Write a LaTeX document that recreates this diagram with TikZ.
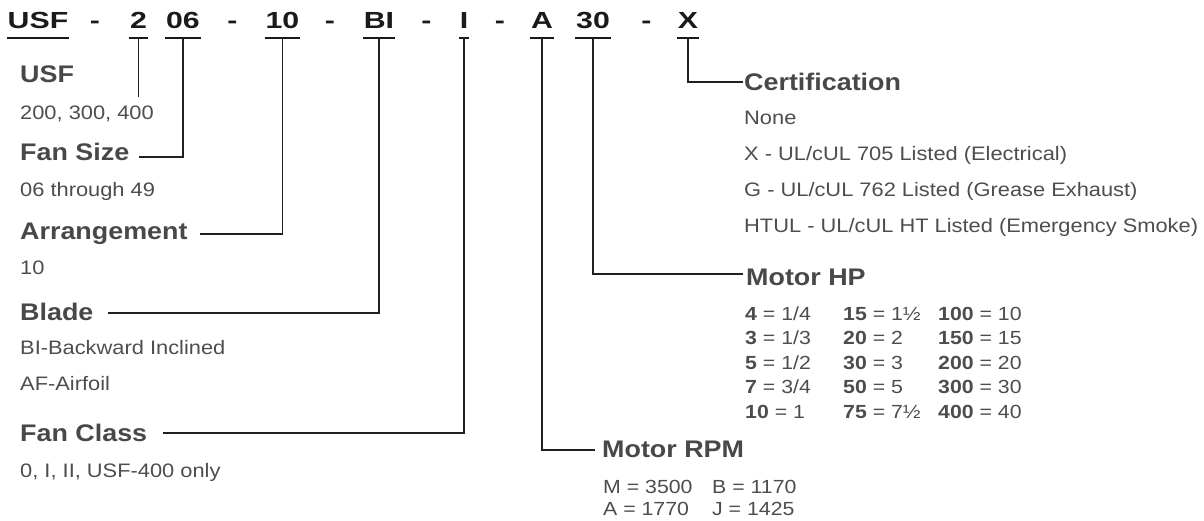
\documentclass[tikz,border=0pt]{standalone}
\usepackage{fontspec}
\setmainfont{Liberation Sans}[FakeStretch=1.12]
\newfontfamily\codef{Liberation Sans}[FakeStretch=1.3]
\definecolor{codecol}{HTML}{1A1A1A}
\definecolor{headcol}{HTML}{48484A}
\definecolor{bodycol}{HTML}{4D4D4F}
\definecolor{linecol}{HTML}{231F20}
\tikzset{
  code/.style={font=\codef\bfseries\fontsize{23.3}{24}\selectfont, text=codecol, anchor=base, inner sep=0pt},
  head/.style={font=\bfseries\fontsize{24}{26}\selectfont, text=headcol, anchor=base west, inner sep=0pt},
  body/.style={font=\fontsize{19.5}{21}\selectfont, text=bodycol, anchor=base west, inner sep=0pt},
  tab/.style={font=\fontsize{19}{20}\selectfont, text=bodycol, anchor=base west, inner sep=0pt},
  conn/.style={draw=linecol, line width=1.8pt},
  uline/.style={draw=codecol, line width=2pt},
}
\begin{document}
\begin{tikzpicture}[x=1pt,y=-1pt]
\useasboundingbox (0,0) rectangle (1204,521);
% code row
\node[code] (cUSF) at (38,29) {USF};
\node[code] (d1) at (95,29) {-};
\node[code] (c2) at (138.5,29) {2};
\node[code] (c06) at (183,29) {06};
\node[code] (d2) at (232.5,29) {-};
\node[code] (c10) at (282.5,29) {10};
\node[code] (d3) at (330,29) {-};
\node[code] (cBI) at (379,29) {BI};
\node[code] (d4) at (426.5,29) {-};
\node[code] (cI) at (464,29) {I};
\node[code] (d5) at (500,29) {-};
\node[code] (cA) at (542,29) {A};
\node[code] (c30) at (593,29) {30};
\node[code] (d6) at (646.5,29) {-};
\node[code] (cX) at (688,29) {X};
\foreach \n in {cUSF,c2,c06,c10,cBI,cI,cA,c30,cX}{
  \draw[uline] ([xshift=-0.5pt,yshift=-9pt]\n.base west) -- ([xshift=0.5pt,yshift=-9pt]\n.base east);
  \coordinate (u\n) at ([yshift=-9pt]\n.base);
}
% left column
\node[head] (hUSF) at (20,83) {USF};
\node[body] (bUSF) at (20,120) {200, 300, 400};
\node[head] (hFan) at (20,161) {Fan Size};
\node[body] (bFan) at (20,197) {06 through 49};
\node[head] (hArr) at (20,240) {Arrangement};
\node[body] (bArr) at (20,275) {10};
\node[head] (hBlade) at (20,320) {Blade};
\node[body] (bBlade1) at (20,354) {BI-Backward Inclined};
\node[body] (bBlade2) at (20,390) {AF-Airfoil};
\node[head] (hClass) at (20,441) {Fan Class};
\node[body] (bClass) at (20,477) {0, I, II, USF-400 only};
% right: certification
\node[head] (hCert) at (744,91) {Certification};
\node[body] (bCert1) at (744,125) {None};
\node[body] (bCert2) at (744,161) {X - UL/cUL 705 Listed (Electrical)};
\node[body] (bCert3) at (744,197) {G - UL/cUL 762 Listed (Grease Exhaust)};
\node[body] (bCert4) at (744,233) {HTUL - UL/cUL HT Listed (Emergency Smoke)};
% motor HP
\node[head] (hHP) at (746,285) {Motor HP};
\node[tab] (t11) at (745,320) {\textbf{4} = 1/4};
\node[tab] (t21) at (745,344.5) {\textbf{3} = 1/3};
\node[tab] (t31) at (745,369) {\textbf{5} = 1/2};
\node[tab] (t41) at (745,393.5) {\textbf{7} = 3/4};
\node[tab] (t51) at (745,418) {\textbf{10} = 1};
\node[tab] (t12) at (843,320) {\textbf{15} = 1½};
\node[tab] (t22) at (843,344.5) {\textbf{20} = 2};
\node[tab] (t32) at (843,369) {\textbf{30} = 3};
\node[tab] (t42) at (843,393.5) {\textbf{50} = 5};
\node[tab] (t52) at (843,418) {\textbf{75} = 7½};
\node[tab] (t13) at (938,320) {\textbf{100} = 10};
\node[tab] (t23) at (938,344.5) {\textbf{150} = 15};
\node[tab] (t33) at (938,369) {\textbf{200} = 20};
\node[tab] (t43) at (938,393.5) {\textbf{300} = 30};
\node[tab] (t53) at (938,418) {\textbf{400} = 40};
% motor RPM
\node[head] (hRPM) at (602,457) {Motor RPM};
\node[tab] (r11) at (603,493) {M = 3500};
\node[tab] (r12) at (712,493) {B = 1170};
\node[tab] (r21) at (603,515) {A = 1770};
\node[tab] (r22) at (712,515) {J = 1425};
% connectors
\coordinate (e2) at (138.5,97);
\draw[conn] (uc2) -- (e2);
\draw[conn] (uc06) |- ([xshift=10pt,yshift=4pt]hFan.base east);
\draw[conn] (uc10) |- ([xshift=12pt,yshift=6pt]hArr.base east);
\draw[conn] (ucBI) |- ([xshift=14pt,yshift=7pt]hBlade.base east);
\draw[conn] (ucI) |- ([xshift=16pt,yshift=8pt]hClass.base east);
\draw[conn] (ucA) |- ([xshift=-7pt,yshift=7pt]hRPM.base west);
\draw[conn] (uc30) |- ([xshift=-3pt,yshift=11pt]hHP.base west);
\draw[conn] (ucX) |- ([xshift=-1pt,yshift=9pt]hCert.base west);
\end{tikzpicture}
\end{document}
